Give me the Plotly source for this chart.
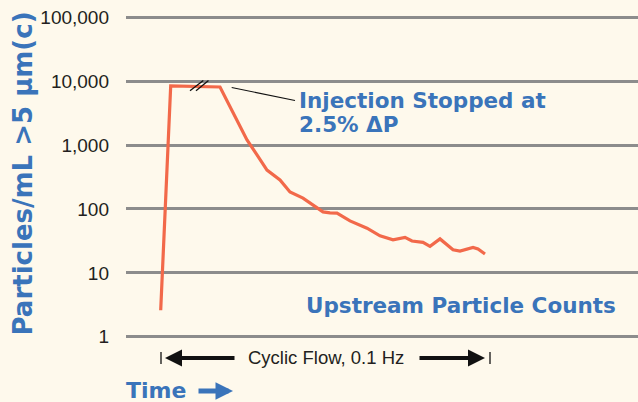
import plotly.graph_objects as go

# ---- data (time in arbitrary units, counts per mL) ----
time = [34.7, 44.7, 94, 101, 107, 121, 131, 141, 154, 164, 177, 184, 197, 204,
        211, 224, 241, 254, 267, 279, 286, 297, 304, 314, 319, 327, 334, 347, 352, 359]
counts = [2.6, 8400, 8100, 5000, 3170, 1200, 700, 406, 284, 184, 148, 125, 90, 87,
          86, 65, 50, 38, 33, 36, 31.5, 30, 26, 34, 29, 23, 22, 25, 23.6, 19.7]

tick_vals = [1, 10, 100, 1000, 10000, 100000]
tick_text = ["1", "10", "100", "1,000", "10,000", "100,000"]

injection_stop_time = 105.7
cyclic_start, cyclic_end = 35, 364

BG = "#FEF9EC"
BLUE = "#3A74BA"
ORANGE = "#F2694A"
GRID = "#8C8C8C"
DARK = "#231F20"

W, H = 638, 402
ML, MR, MT, MB = 126, 0, 14, 62
PH = H - MT - MB


def py(p):
    """pixel row -> paper y"""
    return (H - MB - p) / PH


fig = go.Figure()
fig.add_trace(go.Scatter(x=time, y=counts, mode="lines",
                         line=dict(color=ORANGE, width=3.2), hoverinfo="skip"))

fig.update_layout(
    width=W, height=H,
    margin=dict(l=ML, r=MR, t=MT, b=MB),
    paper_bgcolor=BG, plot_bgcolor=BG,
    showlegend=False,
    xaxis=dict(range=[0, 512], visible=False),
    yaxis=dict(type="log", range=[-0.05, 5.05], tickmode="array",
               tickvals=tick_vals, ticktext=tick_text,
               showgrid=True, gridcolor=GRID, gridwidth=2.5,
               zeroline=False, showline=False, ticks="",
               ticklabelstandoff=16,
               tickfont=dict(family="Liberation Sans, Arial", size=19, color=DARK)),
)

ann = []
# y title
ann.append(dict(text="Particles/mL >5 µm(c)", xref="paper", yref="paper",
                x=(23 - ML) / 512, y=py(173.5), textangle=-90, showarrow=False,
                xanchor="center", yanchor="middle",
                font=dict(family="DejaVu Sans", size=26, color=BLUE, weight="bold")))
# injection text
ann.append(dict(text="Injection Stopped at", xref="x", yref="paper",
                x=297 - ML, y=py(100.3), showarrow=False, xanchor="left", yanchor="middle",
                font=dict(family="DejaVu Sans", size=21.5, color=BLUE, weight="bold")))
ann.append(dict(text="2.5% ΔP", xref="x", yref="paper",
                x=297 - ML, y=py(124), showarrow=False, xanchor="left", yanchor="middle",
                font=dict(family="DejaVu Sans", size=21.5, color=BLUE, weight="bold")))
ann.append(dict(text="Upstream Particle Counts", xref="paper", yref="paper",
                x=(618 - ML) / 512, y=py(305.5), showarrow=False, xanchor="right", yanchor="middle",
                font=dict(family="DejaVu Sans", size=21.5, color=BLUE, weight="bold")))
# cyclic flow
ann.append(dict(text="Cyclic Flow, 0.1 Hz", xref="x", yref="paper",
                x=(cyclic_start + cyclic_end) / 2, y=py(357.4), showarrow=False,
                xanchor="center", yanchor="middle",
                font=dict(family="Liberation Sans, Arial", size=18.5, color=DARK)))
ann.append(dict(text="", xref="x", yref="paper", x=cyclic_start + 4, y=py(358),
                ax=71, ay=0, showarrow=True, arrowhead=2, arrowsize=0.85,
                arrowwidth=4, arrowcolor="#111111"))
ann.append(dict(text="", xref="x", yref="paper", x=cyclic_end - 5, y=py(358),
                ax=-67, ay=0, showarrow=True, arrowhead=2, arrowsize=0.85,
                arrowwidth=4, arrowcolor="#111111"))
# Time label
ann.append(dict(text="Time", xref="paper", yref="paper", x=(124 - ML) / 512, y=py(390),
                showarrow=False, xanchor="left", yanchor="middle",
                font=dict(family="DejaVu Sans", size=22, color=BLUE, weight="bold")))
ann.append(dict(text="", xref="paper", yref="paper", x=(233 - ML) / 512, y=py(391),
                ax=-36, ay=0, showarrow=True, arrowhead=2, arrowsize=0.7,
                arrowwidth=5, arrowcolor=BLUE))
fig.update_layout(annotations=ann)

shapes = []
# callout line
shapes.append(dict(type="line", xref="x", yref="paper",
                   x0=injection_stop_time, y0=py(87.5), x1=295 - ML, y1=py(100.5),
                   line=dict(color="#111111", width=1.2)))
# break marks
for x0, x1 in [(190, 203.3), (196, 208.5)]:
    shapes.append(dict(type="line", xref="x", yref="paper",
                       x0=x0 - ML, y0=py(90.7), x1=x1 - ML, y1=py(80.5),
                       line=dict(color="#111111", width=1.3)))
# cyclic flow end bars
for xb in [161 - ML, 490 - ML]:
    shapes.append(dict(type="line", xref="x", yref="paper",
                       x0=xb, y0=py(352), x1=xb, y1=py(364),
                       line=dict(color="#111111", width=1.3)))
fig.update_layout(shapes=shapes)

fig.write_html("out.html", config={"displayModeBar": False},
               post_script="document.body.style.margin='0';document.body.style.background='%s';" % BG)
